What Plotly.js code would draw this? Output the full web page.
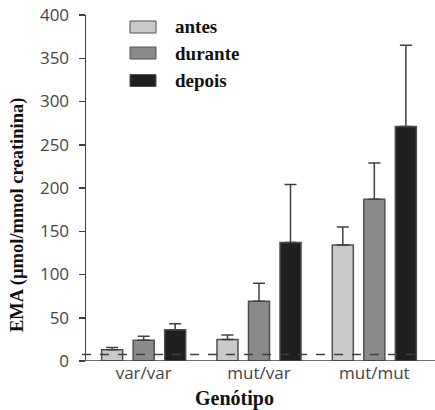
<!DOCTYPE html>
<html>
<head>
<meta charset="utf-8">
<script src="https://cdn.plot.ly/plotly-3.0.1.min.js"></script>
<style>html,body{margin:0;padding:0;background:#fff;}#chart{width:435px;height:410px;}</style>
</head>
<body>
<div id="chart"></div>
<script>
// ---- data ----
var genotypes = ["var/var", "mut/var", "mut/mut"];
var seriesNames = ["antes", "durante", "depois"];
var antes = [13, 25, 134];
var antesErr = [2.5, 5, 21];
var durante = [24, 69, 187];
var duranteErr = [4.5, 21, 42];
var depois = [36, 137, 271];
var depoisErr = [7, 67, 94];
var threshold = 7.5;
var yTickVals = [0, 50, 100, 150, 200, 250, 300, 350, 400];

// ---- layout geometry ----
var W = 435, H = 410;
var M = {l: 86, r: 3, t: 15, b: 49};
var pw = W - M.l - M.r, ph = H - M.t - M.b;
function px(x) { return (x - M.l) / pw; }
function py(y) { return 1 - (y - M.t) / ph; }

var SERIF = "'Liberation Serif', 'Times New Roman', 'DejaVu Serif', serif";
var fills = ["#c9c9c9", "#8a8a8a", "#1f1f1f"];
var values = [antes, durante, depois];
var errs = [antesErr, duranteErr, depoisErr];

var traces = values.map(function (v, i) {
  return {
    type: "bar",
    name: seriesNames[i],
    x: genotypes,
    y: v,
    showlegend: false,
    marker: {color: fills[i], line: {color: "#505050", width: 1.5}},
    error_y: {
      type: "data", array: errs[i],
      arrayminus: errs[i].map(function () { return 0; }),
      symmetric: false, color: "#404040", thickness: 1.5, width: 6
    }
  };
});

var shapes = [
  {type: "line", xref: "paper", yref: "y", x0: px(79), x1: px(435), y0: 0, y1: 0,
   line: {color: "#404040", width: 1.5}},
  {type: "line", xref: "paper", yref: "y", x0: px(82), x1: px(423), y0: threshold, y1: threshold,
   line: {color: "#404040", width: 1.3, dash: "dash"}}
];
var annotations = [];
var legendRows = [27, 53, 80.5];
legendRows.forEach(function (yc, i) {
  shapes.push({type: "rect", xref: "paper", yref: "paper",
    x0: px(130), x1: px(156), y0: py(yc + 6), y1: py(yc - 6),
    fillcolor: fills[i], line: {color: "#505050", width: 1}});
  annotations.push({xref: "paper", yref: "paper", x: px(173), y: py(yc),
    xanchor: "left", yanchor: "middle", showarrow: false,
    text: seriesNames[i],
    font: {family: SERIF, weight: "bold", size: 19, color: "#111"}});
});
annotations.push({xref: "paper", yref: "paper", x: px(17), y: py(215),
  xanchor: "center", yanchor: "middle", showarrow: false, textangle: -90,
  text: "EMA (µmol/mmol creatinina)",
  font: {family: SERIF, weight: "bold", size: 18.5, color: "#111"}});
annotations.push({xref: "paper", yref: "paper", x: px(234), y: py(398),
  xanchor: "center", yanchor: "middle", showarrow: false,
  text: "Genótipo",
  font: {family: SERIF, weight: "bold", size: 20, color: "#111"}});

var layout = {
  width: W, height: H,
  margin: M,
  paper_bgcolor: "#fff", plot_bgcolor: "#fff",
  barmode: "group", bargap: 0.18, bargroupgap: 0.333,
  showlegend: false,
  xaxis: {
    range: [-0.5, 2.5], showline: false, showgrid: false, zeroline: false,
    ticks: "", tickfont: {family: "Open Sans", size: 17, color: "#454545"},
    fixedrange: true
  },
  yaxis: {
    range: [0, 400], tickvals: yTickVals, showgrid: false, zeroline: false,
    showline: true, linecolor: "#404040", linewidth: 1.5,
    ticks: "outside", ticklen: 6, tickwidth: 1.5, tickcolor: "#404040",
    ticklabelstandoff: 6,
    tickfont: {family: "Open Sans", size: 17, color: "#454545"},
    fixedrange: true
  },
  shapes: shapes,
  annotations: annotations
};

Plotly.newPlot("chart", traces, layout, {displayModeBar: false, staticPlot: true});
</script>
</body>
</html>
